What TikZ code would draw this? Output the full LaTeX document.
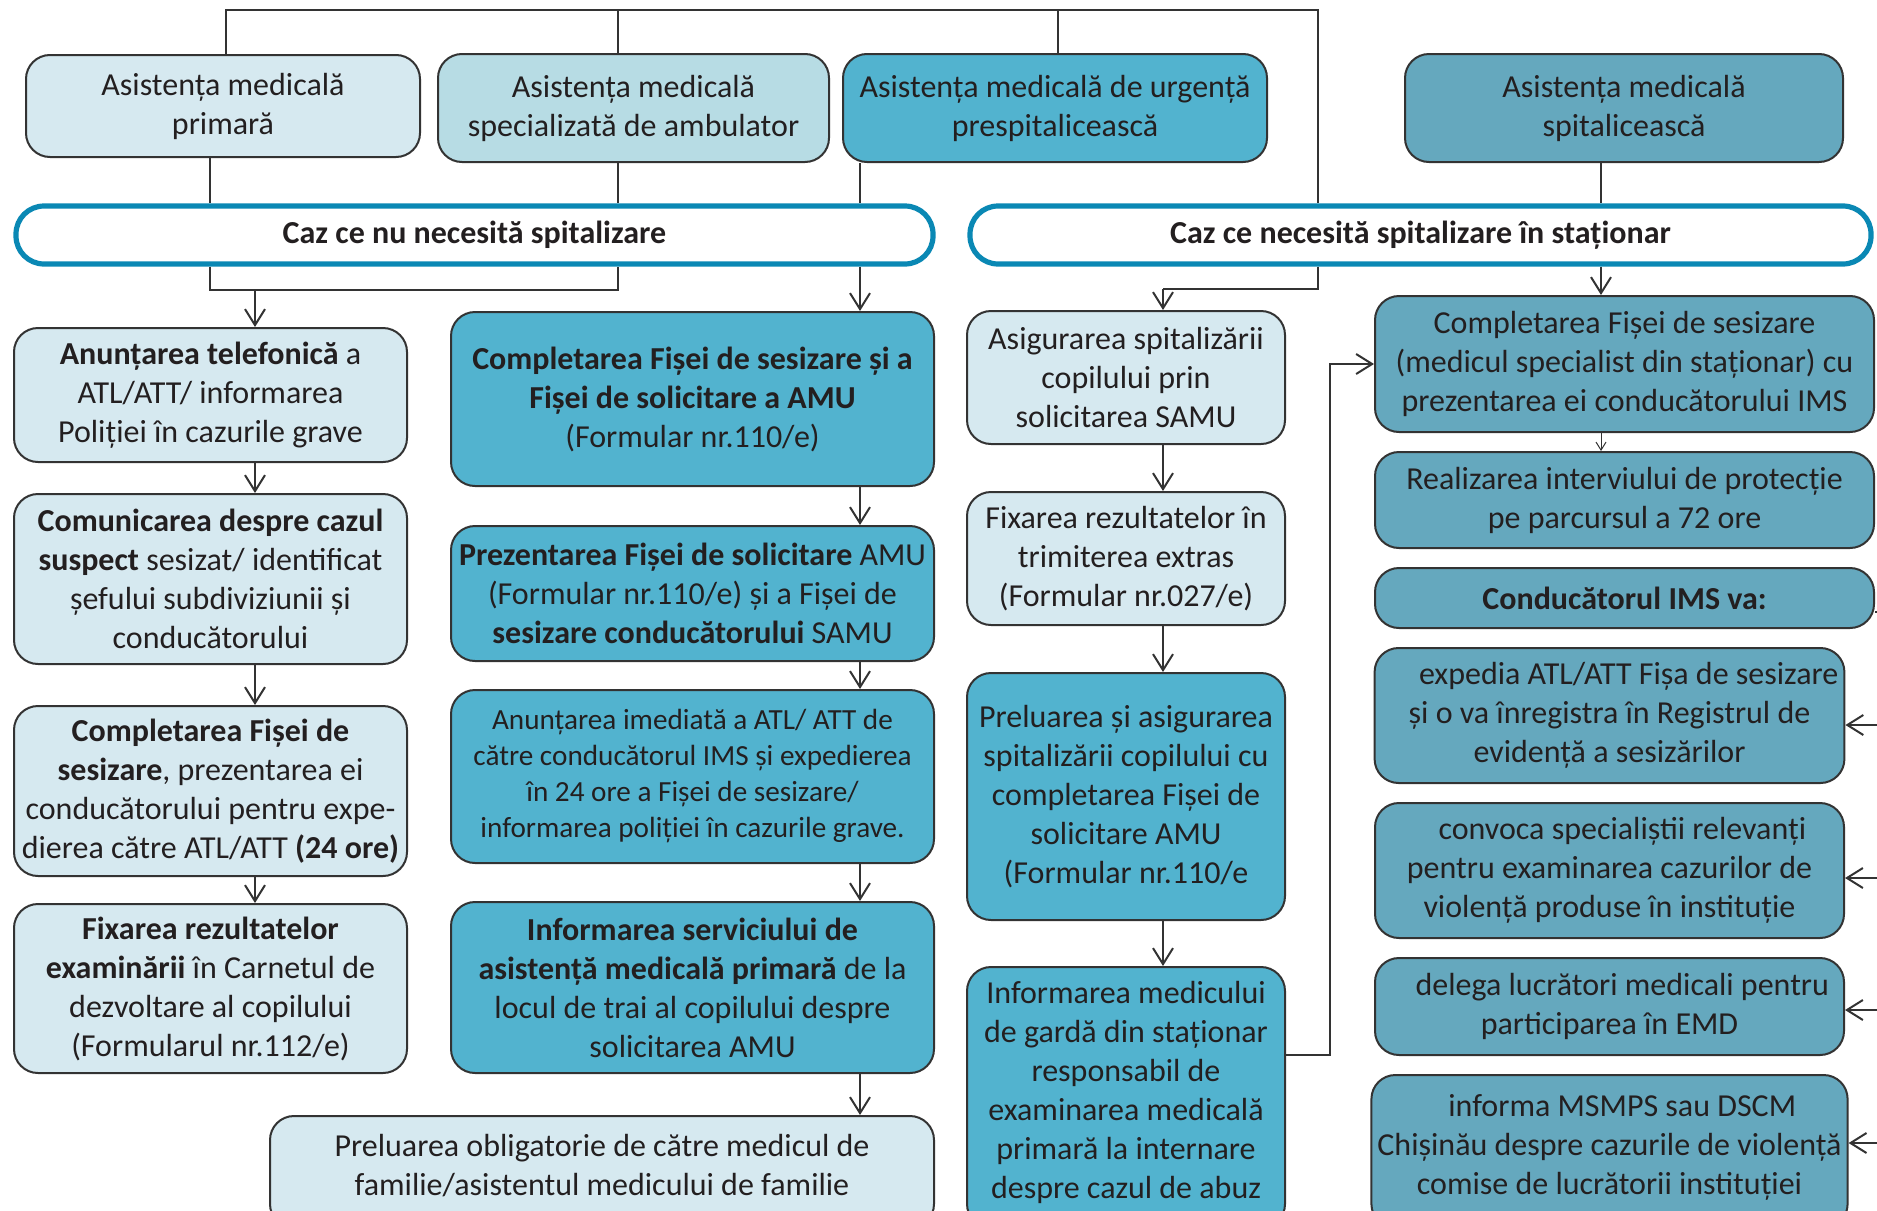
\documentclass[tikz,border=0pt]{standalone}
\usepackage{fontspec}
\setmainfont{Carlito}
\usetikzlibrary{arrows.meta}
\definecolor{lightc}{HTML}{D6E9F0}
\definecolor{midc}{HTML}{B7DCE4}
\definecolor{tealc}{HTML}{52B3CF}
\definecolor{dtealc}{HTML}{65A8BE}
\definecolor{cazblue}{HTML}{0A88B4}
\definecolor{boxline}{HTML}{333333}
\definecolor{linec}{HTML}{333333}
\definecolor{txt}{HTML}{231F20}
\tikzset{
  box/.style={draw=boxline, line width=1pt, rounded corners=12pt, align=center,
    inner xsep=3pt, inner ysep=2pt, text=txt, font=\fontsize{16}{19.5}\selectfont},
  lightbox/.style={box, fill=lightc},
  midbox/.style={box, fill=midc},
  tealbox/.style={box, fill=tealc},
  dtealbox/.style={box, fill=dtealc},
  cazbox/.style={draw=cazblue, line width=2.6pt, fill=white, rounded corners=14pt,
    align=center, text=txt, font=\fontsize{16}{19.5}\selectfont\bfseries},
  conn/.style={draw=linec, line width=1.1pt},
  arr/.style={conn, -{Straight Barb[length=8pt,width=10pt,line width=1pt]}},
  smallarr/.style={draw=linec, line width=0.5pt, -{Straight Barb[length=4pt,width=5pt,line width=0.5pt]}},
}
\newcommand{\flowbox}[7]{%
  \pgfmathsetmacro{\fbcx}{(#3+#5)/2}%
  \pgfmathsetmacro{\fbcy}{(#4+#6)/2}%
  \pgfmathsetmacro{\fbw}{(#5-#3)*0.5}%
  \pgfmathsetmacro{\fbh}{(#6-#4)*0.5}%
  \node[#1, minimum width=\fbw pt, minimum height=\fbh pt] (#2) at (\fbcx,\fbcy) {#7};}
\begin{document}
\begin{tikzpicture}[x=0.5pt,y=-0.5pt]
\useasboundingbox (0,0) rectangle (1877,1210);

% top row
\flowbox{lightbox}{A}{26}{55}{420}{157}{Asistența medicală\\primară}
\flowbox{midbox}{B}{438}{54}{829}{162}{Asistența medicală\\specializată de ambulator}
\flowbox{tealbox}{C}{843}{54}{1267}{162}{Asistența medicală de urgență\\prespitalicească}
\flowbox{dtealbox}{D}{1405}{54}{1843}{162}{Asistența medicală\\spitalicească}

% case boxes
\flowbox{cazbox}{caz1}{16}{206}{933}{264}{Caz ce nu necesită spitalizare}
\flowbox{cazbox}{caz2}{970}{206}{1871}{264}{Caz ce necesită spitalizare în staționar}

% left column
\flowbox{lightbox}{L1}{14}{328}{407}{462}{\textbf{Anunțarea telefonică} a\\ATL/ATT/ informarea\\Poliției în cazurile grave}
\flowbox{lightbox}{L2}{14}{494}{407}{664}{\textbf{Comunicarea despre cazul}\\\textbf{suspect} sesizat/ identificat\\șefului subdiviziunii și\\conducătorului}
\flowbox{lightbox}{L3}{14}{706}{407}{876}{\textbf{Completarea Fișei de}\\\textbf{sesizare}, prezentarea ei\\conducătorului pentru expe-\\dierea către ATL/ATT \textbf{(24 ore)}}
\flowbox{lightbox}{L4}{14}{904}{407}{1073}{\textbf{Fixarea rezultatelor}\\\textbf{examinării} în Carnetul de\\dezvoltare al copilului\\(Formularul nr.112/e)}

% middle column
\flowbox{tealbox}{M1}{451}{312}{934}{486}{\textbf{Completarea Fișei de sesizare și a}\\\textbf{Fișei de solicitare a AMU}\\(Formular nr.110/e)}
\flowbox{tealbox}{M2}{451}{526}{934}{661}{\textbf{Prezentarea Fișei de solicitare} AMU\\(Formular nr.110/e) și a Fișei de\\\textbf{sesizare conducătorului} SAMU}
\flowbox{tealbox, font=\fontsize{14.6}{18}\selectfont}{M3}{451}{690}{934}{863}{Anunțarea imediată a ATL/ ATT de\\către conducătorul IMS și expedierea\\în 24 ore a Fișei de sesizare/\\informarea poliției în cazurile grave.}
\flowbox{tealbox}{M4}{451}{902}{934}{1073}{\textbf{Informarea serviciului de}\\\textbf{asistență medicală primară} de la\\locul de trai al copilului despre\\solicitarea AMU}
\flowbox{lightbox, text depth=7.5pt}{M5}{270}{1116}{934}{1228}{Preluarea obligatorie de către medicul de\\familie/asistentul medicului de familie}

% third column
\flowbox{lightbox}{R1}{967}{311}{1285}{444}{Asigurarea spitalizării\\copilului prin\\solicitarea SAMU}
\flowbox{lightbox}{R2}{967}{492}{1285}{625}{Fixarea rezultatelor în\\trimiterea extras\\(Formular nr.027/e)}
\flowbox{tealbox}{R3}{967}{673}{1285}{920}{Preluarea și asigurarea\\spitalizării copilului cu\\completarea Fișei de\\solicitare AMU\\(Formular nr.110/e}
\flowbox{tealbox, text depth=8pt}{R4}{967}{967}{1285}{1228}{Informarea medicului\\de gardă din staționar\\responsabil de\\examinarea medicală\\primară la internare\\despre cazul de abuz}

% fourth column
\flowbox{dtealbox}{F1}{1375}{296}{1874}{432}{Completarea Fișei de sesizare\\(medicul specialist din staționar) cu\\prezentarea ei conducătorului IMS}
\flowbox{dtealbox}{F2}{1375}{452}{1874}{548}{Realizarea interviului de protecție\\pe parcursul a 72 ore}
\flowbox{dtealbox}{F3}{1375}{568}{1874}{628}{\textbf{Conducătorul IMS va:}}
\flowbox{dtealbox}{G1}{1375}{648}{1844}{783}{\hspace*{1.2em}expedia ATL/ATT Fișa de sesizare\\și o va înregistra în Registrul de\\evidență a sesizărilor}
\flowbox{dtealbox}{G2}{1375}{803}{1844}{938}{\hspace*{0.8em}convoca specialiștii relevanți\\pentru examinarea cazurilor de\\violență produse în instituție}
\flowbox{dtealbox}{G3}{1375}{958}{1844}{1055}{\hspace*{0.8em}delega lucrători medicali pentru\\participarea în EMD}
\flowbox{dtealbox, text depth=7.5pt}{G4}{1375}{1075}{1844}{1228}{\hspace*{0.8em}informa MSMPS sau DSCM\\Chișinău despre cazurile de violență\\comise de lucrătorii instituției}

% coordinates
\coordinate (busL) at (226,10);
\coordinate (busB) at (618,10);
\coordinate (busC) at (1058,10);
\coordinate (busR) at (1318,10);
\coordinate (xa) at (210,290);
\coordinate (xb) at (618,290);
\coordinate (xc) at (860,290);
\coordinate (xd) at (1601,290);
\coordinate (ja) at (255,290);
\coordinate (xe) at (1318,289);
\coordinate (je) at (1163,289);
\coordinate (k1) at (1330,1055);
\coordinate (k2) at (1330,364);
\coordinate (r1) at (1884,612);
\coordinate (r2) at (1884,1143);
\coordinate (g1) at (1884,725);
\coordinate (g2) at (1884,878);
\coordinate (g3) at (1884,1010);
\coordinate (g4) at (1884,1143);

% top bus
\draw[conn] (A.north -| busL) -- (busL) -- (busR) -- (caz2.north -| busR);
\draw[conn] (busB) -- (B.north -| busB);
\draw[conn] (busC) -- (C.north -| busC);

% top boxes to case boxes
\draw[conn] (A.south -| xa) -- (caz1.north -| xa);
\draw[conn] (B.south -| xb) -- (caz1.north -| xb);
\draw[conn] (C.south -| xc) -- (caz1.north -| xc);
\draw[conn] (D.south -| xd) -- (caz2.north -| xd);

% below case 1
\draw[conn] (caz1.south -| xa) -- (xa) -- (xb) -- (caz1.south -| xb);
\draw[arr] (ja) -- (L1.north -| ja);
\draw[arr] (caz1.south -| xc) -- (M1.north -| xc);

% below case 2
\draw[conn] (caz2.south -| xe) -- (xe) -- (je);
\draw[arr] (je) -- (R1.north -| je);
\draw[arr] (caz2.south -| xd) -- (F1.north -| xd);

% left column
\draw[arr] (L1.south -| ja) -- (L2.north -| ja);
\draw[arr] (L2.south -| ja) -- (L3.north -| ja);
\draw[arr] (L3.south -| ja) -- (L4.north -| ja);

% middle column
\draw[arr] (M1.south -| xc) -- (M2.north -| xc);
\draw[arr] (M2.south -| xc) -- (M3.north -| xc);
\draw[arr] (M3.south -| xc) -- (M4.north -| xc);
\draw[arr] (M4.south -| xc) -- (M5.north -| xc);

% third column
\draw[arr] (R1.south -| je) -- (R2.north -| je);
\draw[arr] (R2.south -| je) -- (R3.north -| je);
\draw[arr] (R3.south -| je) -- (R4.north -| je);
\draw[arr] (R4.east |- k1) -- (k1) -- (k2) -- (F1.west |- k2);

% fourth column
\draw[smallarr] (F1.south -| xd) -- (F2.north -| xd);
\draw[conn] (F3.east |- r1) -- (r1) -- (r2);
\draw[arr] (g1) -- (G1.east |- g1);
\draw[arr] (g2) -- (G2.east |- g2);
\draw[arr] (g3) -- (G3.east |- g3);
\draw[arr] (g4) -- (G4.east |- g4);
\end{tikzpicture}
\end{document}
